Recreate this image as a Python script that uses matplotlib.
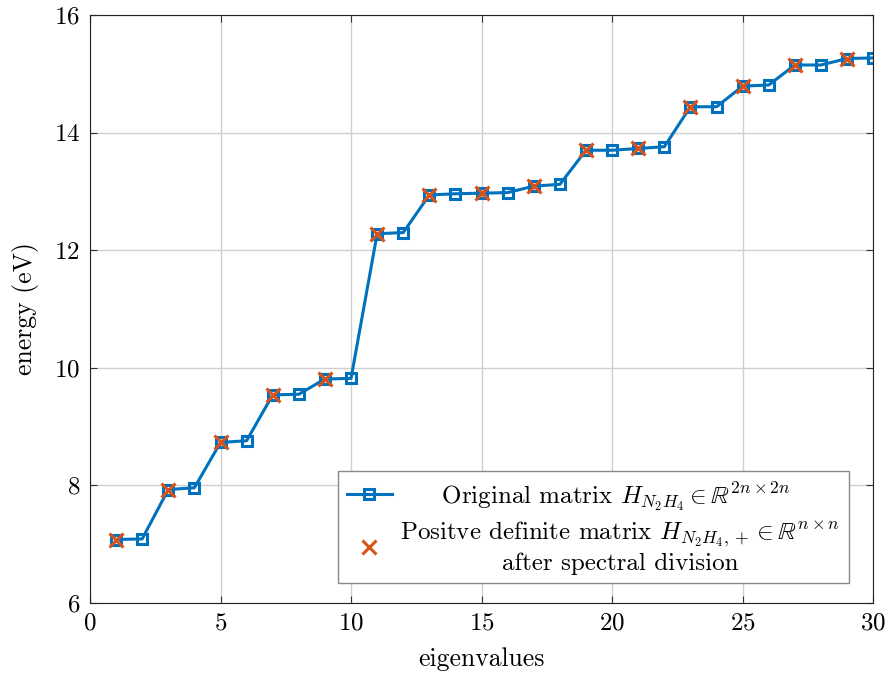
import numpy as np
import matplotlib
matplotlib.use('Agg')
import matplotlib.pyplot as plt

plt.rcParams['font.family'] = 'cmr10'
plt.rcParams['mathtext.fontset'] = 'cm'
plt.rcParams['axes.formatter.use_mathtext'] = True

# eigenvalue energies (eV)
idx = np.arange(1, 31)
energy = [7.08, 7.09, 7.93, 7.96, 8.73, 8.76, 9.54, 9.55, 9.81, 9.82,
          12.28, 12.30, 12.94, 12.96, 12.97, 12.98, 13.09, 13.12, 13.70, 13.70,
          13.73, 13.76, 14.44, 14.44, 14.79, 14.81, 15.15, 15.15, 15.26, 15.27]
idx_pos = idx[::2]
energy_pos = energy[::2]

fig = plt.figure(figsize=(8.89, 6.73), dpi=100)
ax = fig.add_axes([0.1012, 0.104, 0.881, 0.8737])

ax.plot(idx, energy, color='#0072BD', lw=2.2, marker='s', ms=7,
        mfc='none', mew=2.2,
        label=r'     Original matrix $H_{N_2H_4} \in \mathbb{R}^{2n\times 2n}$')
ax.plot(idx_pos, energy_pos, ls='none', color='#D95319', marker='x', ms=10, mew=2.2,
        label='Positve definite matrix $H_{N_2H_4,+} \\in \\mathbb{R}^{n\\times n}$\nafter spectral division')

ax.set_xlim(0, 30)
ax.set_ylim(6, 16)
ax.set_xticks(range(0, 31, 5))
ax.set_yticks(range(6, 17, 2))
ax.grid(True, color='#d0d0d0', lw=1)
ax.set_axisbelow(True)
ax.tick_params(direction='in', top=True, right=True, labelsize=18, length=5,
               color='#333333', pad=7)
for s in ax.spines.values():
    s.set_color('#222222')
ax.set_xlabel('eigenvalues', fontsize=18.5, labelpad=9)
ax.set_ylabel('energy (eV)', fontsize=18.5, labelpad=11)

leg = ax.legend(loc='lower right', bbox_to_anchor=(0.985, 0.012), fontsize=18,
                fancybox=False, edgecolor='#888888', framealpha=1, handlelength=1.8,
                handletextpad=0.35, borderpad=0.35, labelspacing=0.25)
for t in leg.get_texts():
    t.set_multialignment('center')

fig.savefig('out.png', dpi=100)
